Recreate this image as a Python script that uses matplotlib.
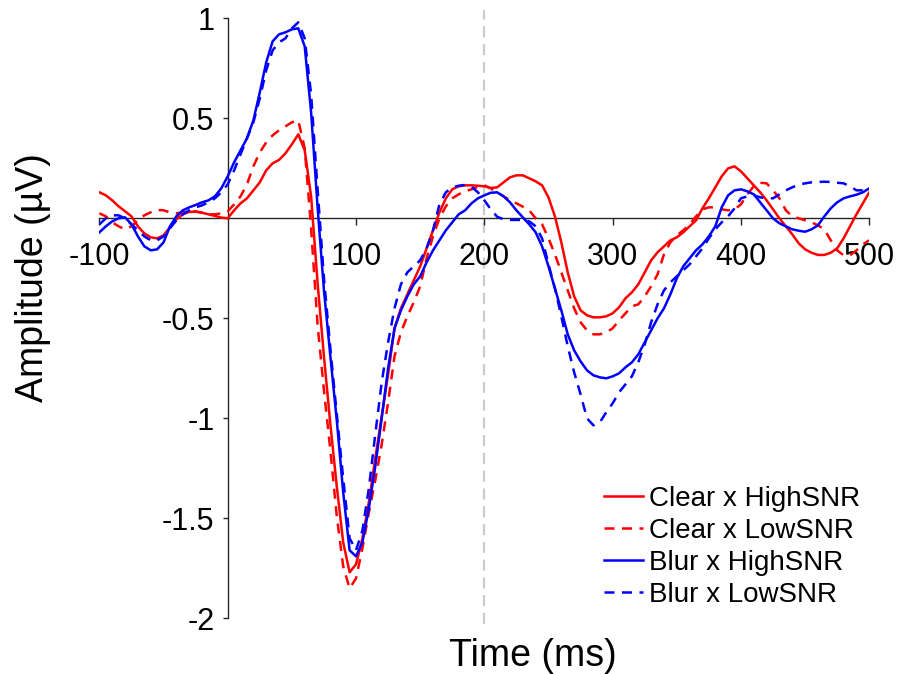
import numpy as np
import matplotlib
matplotlib.use('Agg')
import matplotlib.pyplot as plt

plt.rcParams['font.family'] = ['Liberation Sans', 'DejaVu Sans']

# time axis, 5 ms steps from -100 to 500 ms
time_ms = np.arange(-100, 505, 5)

clear_high = [
    0.13, 0.115, 0.09, 0.06, 0.035, 0.01, -0.04, -0.075, -0.095, -0.1,
    -0.085, -0.045, -0.005, 0.02, 0.032, 0.033, 0.028, 0.02, 0.012, 0.004,
    0.0, 0.04, 0.075, 0.10, 0.14, 0.18, 0.24, 0.275, 0.292, 0.325,
    0.37, 0.42, 0.34, 0.11, -0.32, -0.69, -1.03, -1.34, -1.62, -1.77,
    -1.73, -1.6, -1.42, -1.2, -0.99, -0.78, -0.55, -0.45, -0.38, -0.31,
    -0.24, -0.15, -0.06, 0.03, 0.1, 0.145, 0.16, 0.165, 0.165, 0.163,
    0.16, 0.152, 0.155, 0.18, 0.205, 0.215, 0.215, 0.2, 0.185, 0.165,
    0.105, 0.01, -0.12, -0.27, -0.39, -0.46, -0.485, -0.495, -0.495, -0.49,
    -0.475, -0.445, -0.4, -0.37, -0.33, -0.27, -0.21, -0.17, -0.14, -0.11,
    -0.095, -0.07, -0.04, -0.01, 0.05, 0.1, 0.155, 0.21, 0.25, 0.26,
    0.235, 0.2, 0.165, 0.13, 0.09, 0.045, 0.0, -0.04, -0.08, -0.125,
    -0.155, -0.172, -0.183, -0.183, -0.172, -0.15, -0.1, -0.04, 0.02, 0.075,
    0.13]

clear_low = [
    0.025, 0.01, -0.02, -0.04, -0.055, -0.04, -0.01, 0.015, 0.03, 0.042,
    0.04, 0.03, 0.025, 0.03, 0.035, 0.035, 0.028, 0.02, 0.02, 0.025,
    0.035, 0.07, 0.11, 0.17, 0.26, 0.33, 0.38, 0.415, 0.44, 0.46,
    0.48, 0.49, 0.35, -0.05, -0.53, -0.86, -1.16, -1.49, -1.74, -1.85,
    -1.8, -1.65, -1.47, -1.31, -1.13, -0.92, -0.69, -0.57, -0.49, -0.42,
    -0.34, -0.2, -0.09, 0.0, 0.06, 0.1, 0.12, 0.135, 0.145, 0.158,
    0.165, 0.15, 0.13, 0.11, 0.09, 0.075, 0.058, 0.04, 0.0, -0.03,
    -0.1, -0.18, -0.27, -0.36, -0.45, -0.52, -0.56, -0.58, -0.58, -0.57,
    -0.55, -0.51, -0.475, -0.44, -0.43, -0.39, -0.34, -0.28, -0.18, -0.12,
    -0.085, -0.06, -0.03, 0.01, 0.045, 0.055, 0.055, 0.045, 0.04, 0.045,
    0.07, 0.12, 0.16, 0.178, 0.175, 0.14, 0.1, 0.04, 0.01, 0.0,
    -0.01, -0.02, -0.035, -0.055, -0.11, -0.16, -0.185, -0.185, -0.16, -0.13,
    -0.11]

blur_high = [
    -0.07, -0.04, -0.015, 0.0, 0.005, -0.03, -0.09, -0.14, -0.16, -0.155,
    -0.12, -0.04, 0.01, 0.04, 0.055, 0.067, 0.08, 0.09, 0.11, 0.15,
    0.21, 0.28, 0.34, 0.4, 0.49, 0.63, 0.78, 0.885, 0.92, 0.93,
    0.945, 0.95, 0.86, 0.53, 0.06, -0.36, -0.69, -1.01, -1.37, -1.66,
    -1.69, -1.62, -1.45, -1.24, -1.0, -0.75, -0.55, -0.46, -0.39, -0.33,
    -0.29, -0.22, -0.16, -0.11, -0.06, -0.02, 0.02, 0.04, 0.075, 0.1,
    0.115, 0.128, 0.13, 0.11, 0.08, 0.04, 0.005, -0.03, -0.07, -0.14,
    -0.24, -0.35, -0.46, -0.58, -0.66, -0.715, -0.76, -0.785, -0.795, -0.8,
    -0.79, -0.775, -0.745, -0.72, -0.68, -0.62, -0.56, -0.5, -0.45, -0.38,
    -0.3, -0.24, -0.2, -0.16, -0.13, -0.09, -0.04, 0.055, 0.115, 0.14,
    0.145, 0.135, 0.12, 0.08, 0.04, 0.0, -0.025, -0.04, -0.055, -0.062,
    -0.067, -0.055, -0.035, 0.01, 0.05, 0.08, 0.1, 0.11, 0.118, 0.13,
    0.15]

blur_low = [
    -0.03, 0.0, 0.015, 0.015, 0.0, -0.03, -0.06, -0.09, -0.11, -0.11,
    -0.09, -0.05, -0.01, 0.02, 0.04, 0.055, 0.065, 0.08, 0.1, 0.13,
    0.17, 0.24, 0.32, 0.4, 0.48, 0.6, 0.74, 0.84, 0.88, 0.9,
    0.95, 0.98, 0.9, 0.62, 0.15, -0.3, -0.65, -0.98, -1.3, -1.6,
    -1.66, -1.56, -1.35, -1.08, -0.82, -0.62, -0.45, -0.33, -0.27, -0.24,
    -0.21, -0.15, -0.06, 0.07, 0.13, 0.155, 0.163, 0.167, 0.158, 0.13,
    0.09, 0.045, 0.008, -0.005, -0.008, -0.008, -0.008, -0.015, -0.04, -0.1,
    -0.23, -0.35, -0.49, -0.64, -0.77, -0.88, -1.0, -1.035, -1.02, -0.97,
    -0.925, -0.87, -0.83, -0.79, -0.72, -0.63, -0.52, -0.43, -0.36, -0.32,
    -0.29, -0.26, -0.23, -0.19, -0.15, -0.1, -0.055, -0.02, 0.01, 0.05,
    0.1, 0.11, 0.115, 0.105, 0.1, 0.1, 0.12, 0.14, 0.155, 0.168,
    0.175, 0.18, 0.182, 0.183, 0.182, 0.178, 0.175, 0.16, 0.14, 0.14,
    0.15]

labels = ['Clear x HighSNR', 'Clear x LowSNR', 'Blur x HighSNR', 'Blur x LowSNR']
x_ticks = [-100, 100, 200, 300, 400, 500]
y_ticks = [-2, -1.5, -1, -0.5, 0.5, 1]
y_tick_labels = ['-2', '-1.5', '-1', '-0.5', '0.5', '1']

fig = plt.figure(figsize=(8.98, 6.74), dpi=100)
ax = fig.add_axes([0.1107, 0.0826, 0.8573, 0.8902])

# stimulus reference line at 200 ms
ax.plot([200, 200], [-2.03, 1.04], color='#cccccc', lw=1.6,
        dashes=(5, 3), clip_on=False, zorder=1)

lw = 1.8
ax.plot(time_ms, clear_high, color='#ff0000', lw=lw, label=labels[0], zorder=3)
ax.plot(time_ms, clear_low, color='#ff0000', lw=lw, dashes=(4, 3), label=labels[1], zorder=3)
ax.plot(time_ms, blur_high, color='#0000ff', lw=lw, label=labels[2], zorder=3)
ax.plot(time_ms, blur_low, color='#0000ff', lw=lw, dashes=(4, 3), label=labels[3], zorder=3)

ax.set_xlim(-100, 500)
ax.set_ylim(-2, 1)

for s in ['top', 'right']:
    ax.spines[s].set_visible(False)
ax.spines['left'].set_position(('data', 0))
ax.spines['bottom'].set_position(('data', 0))
for s in ['left', 'bottom']:
    ax.spines[s].set_color('#262626')
    ax.spines[s].set_linewidth(1.0)
    ax.spines[s].set_zorder(2)

ax.set_xticks(x_ticks)
ax.set_xticklabels([str(t) for t in x_ticks])
ax.set_yticks(y_ticks)
ax.set_yticklabels(y_tick_labels)
ax.tick_params(axis='x', direction='out', length=5, width=1, color='#262626',
               labelsize=22, pad=12)
ax.tick_params(axis='y', direction='out', length=3.5, width=1, color='#262626',
               labelsize=22, pad=6)

fig.text(33 / 898, 1 - 278 / 674, 'Amplitude (\u00b5V)', rotation=90,
         ha='center', va='center', fontsize=27)
fig.text(533 / 898, 1 - 666 / 674, 'Time (ms)', ha='center', va='baseline',
         fontsize=27)

ax.legend(loc='lower right', bbox_to_anchor=(860 / 898, 1 - 608 / 674),
          bbox_transform=fig.transFigure, frameon=False, fontsize=20,
          handlelength=1.4, handletextpad=0.2, labelspacing=0.22,
          borderpad=0, borderaxespad=0)

fig.savefig('out.png', dpi=100)
